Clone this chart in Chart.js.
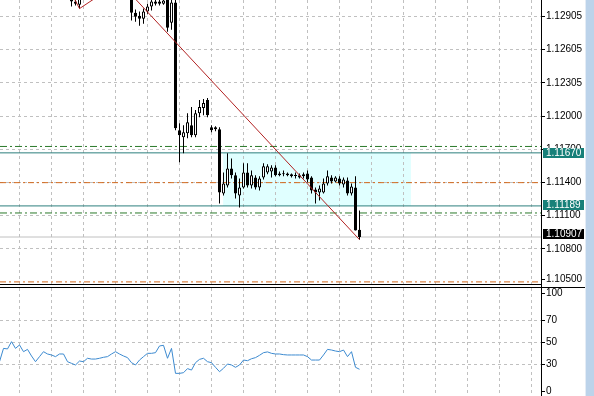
<!DOCTYPE html>
<html><head><meta charset="utf-8">
<script src="https://cdn.jsdelivr.net/npm/chart.js@4"></script>
<style>
html,body{margin:0;padding:0;width:594px;height:396px;overflow:hidden;background:#fff;}
#main{position:absolute;left:0;top:0;}
#rsi{position:absolute;left:0;top:286px;}
#sb{position:absolute;left:585px;top:0;width:9px;height:396px;background:#bcd3ea;border-left:1px solid #e4ecf5;box-sizing:border-box;}
#vgap{position:absolute;left:541px;top:284px;width:1px;height:3px;background:#000;}
#sep{position:absolute;left:541px;top:287px;width:44px;height:1px;background:#000;}
</style></head><body>
<canvas id="main" width="585" height="285"></canvas>
<canvas id="rsi" width="585" height="111"></canvas>
<div id="vgap"></div><div id="sep"></div>
<div id="sb"></div>
<script>
// ---- data (index j = bar number, left to right) ----
const N = 91;
const opens = [
 null,null,null,null,null,null,null,null,null,null,
 null,null,null,null,null,null,null,null,1.13115,1.13042,
 1.13014,null,null,null,null,null,null,null,null,null,
 null,null,null,1.13133,1.12941,1.12914,1.12887,1.12951,1.12996,1.13042,
 1.13042,1.13023,1.13115,1.12850,1.13033,1.11876,1.11812,1.11848,1.11921,1.11830,
 1.12030,1.12076,1.12149,1.11903,1.11903,1.11885,1.11302,1.11375,1.11529,1.11466,
 1.11283,1.11356,1.11493,1.11375,1.11447,1.11356,1.11447,1.11493,1.11502,1.11538,
 1.11484,1.11484,1.11484,1.11475,1.11466,1.11466,1.11475,1.11484,1.11447,1.11338,
 1.11311,1.11311,1.11393,1.11447,1.11411,1.11438,1.11384,1.11420,1.11302,1.11356,
 1.10974];
const highs = [
 null,null,null,null,null,null,null,null,null,null,
 null,null,null,null,null,null,null,null,1.13151,1.13087,
 1.13133,null,null,null,null,null,null,null,null,null,
 null,null,null,1.13169,1.12969,1.12951,1.12978,1.13023,1.13060,1.13078,
 1.13060,1.13087,1.13151,1.13078,1.13069,1.11939,1.11921,1.12030,1.12085,1.12058,
 1.12149,1.12158,1.12167,1.11921,1.11912,1.11903,1.11493,1.11666,1.11620,1.11493,
 1.11438,1.11575,1.11575,1.11511,1.11466,1.11457,1.11575,1.11566,1.11557,1.11557,
 1.11502,1.11511,1.11493,1.11484,1.11493,1.11484,1.11493,1.11511,1.11457,1.11356,
 1.11375,1.11438,1.11511,1.11466,1.11457,1.11457,1.11447,1.11447,1.11393,1.11457,
 1.11147];
const lows = [
 null,null,null,null,null,null,null,null,null,null,
 null,null,null,null,null,null,null,null,1.12996,1.13005,
 1.12978,null,null,null,null,null,null,null,null,null,
 null,null,null,1.12869,1.12859,1.12823,1.12841,1.12932,1.12960,1.13005,
 1.13005,1.13014,1.12768,1.12787,1.11876,1.11584,1.11666,1.11803,1.11812,1.11812,
 1.11994,1.12012,1.11994,1.11857,1.11866,1.11211,1.11283,1.11356,1.11438,1.11256,
 1.11174,1.11347,1.11356,1.11347,1.11338,1.11329,1.11429,1.11475,1.11447,1.11457,
 1.11457,1.11457,1.11457,1.11447,1.11438,1.11438,1.11438,1.11402,1.11302,1.11211,
 1.11238,1.11302,1.11375,1.11393,1.11402,1.11375,1.11356,1.11283,1.11283,1.10965,
 1.10883];
const closes = [
 null,null,null,null,null,null,null,null,null,null,
 null,null,null,null,null,null,null,null,1.13042,1.13023,
 1.13096,null,null,null,null,null,null,null,null,null,
 null,null,null,1.12941,1.12905,1.12887,1.12951,1.12996,1.13042,1.13023,
 1.13023,1.13051,1.12805,1.13033,1.11894,1.11830,1.11857,1.11948,1.11830,1.12030,
 1.12085,1.12122,1.12012,1.11876,1.11885,1.11311,1.11393,1.11529,1.11466,1.11302,
 1.11356,1.11493,1.11375,1.11466,1.11356,1.11438,1.11548,1.11548,1.11538,1.11466,
 1.11466,1.11475,1.11466,1.11457,1.11461,1.11447,1.11457,1.11429,1.11329,1.11311,
 1.11347,1.11393,1.11457,1.11411,1.11447,1.11393,1.11429,1.11302,1.11366,1.10965,
 1.10907];
const rsi = [
 32.1,44.2,43.7,50.3,44.2,47.3,41.2,43.3,37.3,32.1,
 36.7,41.2,39.1,38.2,36.7,39.1,39.1,32.1,30.6,29.1,
 32.7,32.1,35.2,34.5,34.5,35.2,36.1,36.7,39.1,41.2,
 39.1,37.3,35.8,31.2,29.1,33.6,36.7,39.7,39.7,40.3,
 46.4,47.0,35.2,44.2,21.5,21.5,22.1,25.8,24.5,31.2,
 34.2,35.2,32.1,31.2,27.0,23.0,26.1,30.0,29.1,27.0,
 29.1,33.6,33.0,34.8,35.8,37.9,40.3,41.0,39.7,39.1,
 39.1,38.5,38.2,38.2,38.2,38.2,38.2,36.7,33.6,33.6,
 33.6,38.2,43.3,42.7,41.8,41.2,42.7,36.7,41.2,27.0,
 25.2];
const zigzagIdx = [12, 20, 30, 90];
const zigzagPrice = [1.13534, 1.12978, 1.13220, 1.10883];
const greenLevels = [1.11728, 1.11125];
const tealLevels = [1.11670, 1.11189];
const orangeLevels = [1.11400, 1.10500];
const bidLevel = [1.10907];
const boxLevels = [1.11670, 1.11189, 1.10907];
const rectTime = [55.9, 102.85];
const rectPrice = [1.11670, 1.11189];
const priceTicks = [1.10500,1.10800,1.11100,1.11400,1.11700,1.12000,1.12305,1.12605,1.12905];
const priceTickLabels = ['1.10500','1.10800','1.11100','1.11400','1.11700','1.12000','1.12305','1.12605','1.12905'];
const rsiTicks = [0,30,50,70,100];
const rsiTickLabels = ['0','30','50','70','100'];
const gridIdx = [5,13,21,29,37,45,53,61,69,77,85,93,101,109,117,125,133];

// ---- view ----
const X_MIN = 0.125, X_MAX = 135.375;
const P_MIN = 1.10481, P_MAX = 1.13056;
const FONT = {family:'Liberation Sans', size:10};
Chart.defaults.font.family = 'Liberation Sans';
Chart.defaults.color = '#000';

const wickData = [], bodyData = [];
for (let j = 0; j < N; j++) {
  if (opens[j] == null) continue;
  wickData.push({x:j, y:[lows[j], highs[j]]});
  bodyData.push({x:j, y:[opens[j], closes[j]], up: closes[j] >= opens[j]});
}
const hLine = v => [{x:X_MIN, y:v}, {x:X_MAX, y:v}];
const lineBase = {type:'line', pointRadius:0, borderWidth:1, fill:false, tension:0};

function clampTicks(top, bottom){
  return {id:'clampTicks', afterLayout(chart){
    const s = chart.scales.y; const proto = Object.getPrototypeOf(s);
    s.getPixelForTick = function(i){
      const p = proto.getPixelForTick.call(this, i);
      return p == null ? p : Math.min(this.bottom - bottom, Math.max(this.top + top, p));
    };
  }};
}
const rectPlugin = {id:'rect', beforeDraw(chart){
  const {ctx, scales:{x, y}} = chart;
  const x0 = x.getPixelForValue(rectTime[0]), x1 = x.getPixelForValue(rectTime[1]);
  const y0 = y.getPixelForValue(rectPrice[0]), y1 = y.getPixelForValue(rectPrice[1]);
  ctx.save(); ctx.fillStyle = '#e0ffff'; ctx.fillRect(x0, y0, x1 - x0, y1 - y0); ctx.restore();
}};
const boxStyles = [{bg:'#178079', dy:0}, {bg:'#178079', dy:-1}, {bg:'#000000', dy:-3}];
const boxPlugin = {id:'boxes', afterDraw(chart){
  const {ctx, scales:{y}} = chart;
  boxLevels.forEach((v, i) => {
    const st = boxStyles[i];
    const py = Math.round(y.getPixelForValue(v) + st.dy);
    ctx.save();
    ctx.fillStyle = st.bg; ctx.fillRect(y.left + 2, py - 5, 41, 10);
    ctx.fillStyle = '#fff'; ctx.font = '10px "Liberation Sans"'; ctx.textBaseline = 'middle';
    ctx.fillText(v.toFixed(5), y.left + 5, py + 0.5);
    ctx.restore();
  });
}};

const xScale = (pos) => ({
  type:'linear', min:X_MIN, max:X_MAX, position:pos, offset:false,
  afterBuildTicks: s => { s.ticks = gridIdx.map(v => ({value:v})); },
  ticks:{display:false},
  grid:{color:'#c0c0c0', drawTicks:false, offset:false},
  border:{display:true, color:'#000', width:1, dash:[3,3]},
  afterFit: s => { s.height = 1; s.paddingLeft = 0; s.paddingRight = 0; }
});

new Chart(document.getElementById('main'), {
  type:'bar',
  data:{datasets:[
    ...greenLevels.map(v => ({...lineBase, data:hLine(v), borderColor:'#2a7a2a', borderDash:[7,3,2,3], order:6})),
    ...tealLevels.map(v => ({...lineBase, data:hLine(v), borderColor:'#2c7f7d', order:6})),
    ...orangeLevels.map(v => ({...lineBase, data:hLine(v), borderColor:'#d2691e', borderDash:[6,3,2,3], order:6})),
    {...lineBase, data:hLine(bidLevel[0]), borderColor:'#c0c0c0', order:6},
    {type:'bar', data:wickData, backgroundColor:'#000', borderWidth:0, barThickness:1, grouped:false, inflateAmount:0, order:4},
    {type:'bar', data:bodyData, backgroundColor: c => (c.raw && c.raw.up) ? '#ffffff' : '#000000',
      borderColor:'#000', borderWidth:1, borderSkipped:false, barThickness:3, grouped:false, minBarLength:1, inflateAmount:0, order:3},
    {...lineBase, data:zigzagIdx.map((x, i) => ({x, y:zigzagPrice[i]})), borderColor:'#b22222', order:1}
  ]},
  options:{
    responsive:false, animation:false, devicePixelRatio:1,
    layout:{padding:0},
    plugins:{legend:{display:false}, tooltip:{enabled:false}},
    scales:{
      x: xScale('bottom'),
      y:{type:'linear', position:'right', min:P_MIN, max:P_MAX,
        afterBuildTicks: s => { s.ticks = priceTicks.map(v => ({value:v})); },
        ticks:{callback:(v, i) => priceTickLabels[i], font:FONT, color:'#000', padding:1, autoSkip:false},
        grid:{color: c => c.index === 0 ? 'rgba(0,0,0,0)' : '#c0c0c0', tickColor:'#000', tickLength:4},
        border:{display:true, color:'#000', width:1, dash:[3,3]},
        afterFit: s => { s.width = 44; s.paddingTop = 0; s.paddingBottom = 0; }
      }
    }
  },
  plugins:[rectPlugin, boxPlugin, clampTicks(6, 5)]
});

new Chart(document.getElementById('rsi'), {
  type:'line',
  data:{datasets:[
    {...lineBase, data:rsi.map((v, j) => ({x:j, y:v})), borderColor:'#3c8ad0'}
  ]},
  options:{
    responsive:false, animation:false, devicePixelRatio:1,
    layout:{padding:0},
    plugins:{legend:{display:false}, tooltip:{enabled:false}},
    scales:{
      x: {...xScale('top'), border:{display:true, color:'#000', width:1, dash:[3,3]}},
      y:{type:'linear', position:'right', min:0, max:100,
        afterBuildTicks: s => { s.ticks = rsiTicks.map(v => ({value:v})); },
        ticks:{callback:(v, i) => rsiTickLabels[i], font:FONT, color:'#000', padding:1, autoSkip:false},
        grid:{color: c => (c.tick && (c.tick.value === 0 || c.tick.value === 100)) ? 'rgba(0,0,0,0)' : '#c0c0c0', tickColor:'#000', tickLength:4},
        border:{display:true, color:'#000', width:1, dash:[3,3]},
        afterFit: s => { s.width = 44; s.paddingTop = 0; s.paddingBottom = 0; }
      }
    }
  },
  plugins:[clampTicks(6, 6)]
});
</script></body></html>
